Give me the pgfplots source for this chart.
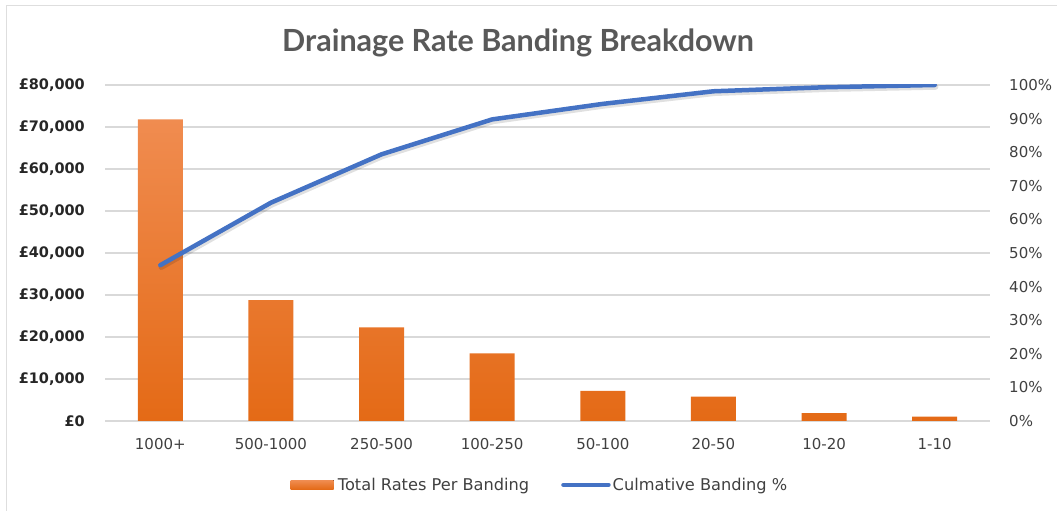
\documentclass[border=0pt]{standalone}
\usepackage{fontspec}
\setmainfont{DejaVu Sans}
\newfontfamily\titlefont{Lato}
\usepackage{pgfplots}
\usepackage{pgfplotstable}
\pgfplotsset{compat=1.18}

\definecolor{barTop}{RGB}{240,140,80}
\definecolor{barMid}{RGB}{242,125,40}
\definecolor{barBot}{RGB}{228,106,22}
\definecolor{lineBlue}{RGB}{68,114,196}
\definecolor{gridGray}{RGB}{217,217,217}
\definecolor{labelDark}{RGB}{38,38,38}
\definecolor{labelGray}{RGB}{64,64,64}
\definecolor{titleGray}{RGB}{89,89,89}
\definecolor{frameGray}{RGB}{222,222,222}

% band index, rates total (GBP), cumulative share (%)
\pgfplotstableread{
idx total  cum
0   71800  46.37
1   28800  64.97
2   22300  79.37
3   16100  89.76
4   7150   94.38
5   5800   98.13
6   1850   99.32
7   1050   100.00
}\bandtable

\begin{document}
\begin{tikzpicture}
\useasboundingbox (0,0) rectangle (1057bp,511bp);
\draw[frameGray, line width=1.5bp] (6.5bp,0) -- (6.5bp,505.5bp) -- (1057bp,505.5bp);

\node[anchor=base, text=titleGray, font=\titlefont\bfseries\fontsize{30.5bp}{34bp}\selectfont]
  at (518bp,459.3bp) {Drainage Rate Banding Breakdown};

% rates per band, left axis
\begin{axis}[
  at={(105bp,90bp)}, anchor=south west,
  scale only axis, width=885bp, height=336bp,
  xmin=-0.5, xmax=7.5, ymin=0, ymax=80000,
  xtick={0,...,7},
  xticklabels={1000+,500-1000,250-500,100-250,50-100,20-50,10-20,1-10},
  ytick={0,10000,20000,30000,40000,50000,60000,70000,80000},
  yticklabels={{£0},{£10,000},{£20,000},{£30,000},{£40,000},{£50,000},{£60,000},{£70,000},{£80,000}},
  scaled y ticks=false,
  ymajorgrids,
  major grid style={gridGray, line width=1.3bp},
  axis line style={draw=none},
  major tick length=0pt, tick style={draw=none},
  xticklabel style={font=\fontsize{15bp}{18bp}\selectfont, text=labelGray, inner sep=0pt, anchor=north, yshift=-17bp},
  yticklabel style={font=\bfseries\fontsize{14.5bp}{17bp}\selectfont, text=labelDark, inner sep=0pt, anchor=east, xshift=-20bp},
]
\addplot[ybar, bar width=45bp, draw=none, top color=barTop, middle color=barMid, bottom color=barBot]
  table[x=idx, y=total] {\bandtable};
\end{axis}

% cumulative share, right axis
\begin{axis}[
  at={(105bp,90bp)}, anchor=south west,
  scale only axis, width=885bp, height=336bp,
  xmin=-0.5, xmax=7.5, ymin=0, ymax=100,
  axis y line*=right, axis x line=none,
  ytick={0,10,...,100},
  yticklabels={0\%,10\%,20\%,30\%,40\%,50\%,60\%,70\%,80\%,90\%,100\%},
  axis line style={draw=none},
  major tick length=0pt, tick style={draw=none},
  yticklabel style={font=\fontsize{15bp}{18bp}\selectfont, text=labelGray, inner sep=0pt, anchor=west, xshift=19bp},
  legend style={at={(0.4915,-0.19)}, anchor=center, draw=none, fill=none,
    legend columns=2, font=\fontsize{16.2bp}{19bp}\selectfont, text=labelGray,
    /tikz/every even column/.append style={column sep=30bp}},
  legend cell align=left,
]
\addlegendimage{legend image code/.code={
  \fill[draw=none, top color=barTop, middle color=barMid, bottom color=barBot] (0bp,-4.5bp) rectangle (43bp,4.5bp);
  \path (45bp,0bp);}}
\addlegendentry{Total Rates Per Banding}
\addplot[black, opacity=0.12, line width=5.5bp, line join=round, line cap=round,
  shift={(1bp,-2bp)}, forget plot]
  table[x=idx, y=cum] {\bandtable};
\addplot[lineBlue, line width=4.5bp, line join=round, line cap=round,
  legend image code/.code={\draw[lineBlue, line width=4.5bp] (0bp,0bp) -- (45bp,0bp);}]
  table[x=idx, y=cum] {\bandtable};
\addlegendentry{Culmative Banding \%}
\end{axis}
\end{tikzpicture}
\end{document}
